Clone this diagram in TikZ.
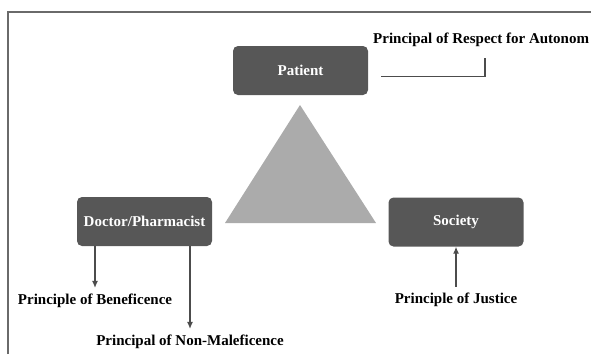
\documentclass[tikz,border=0pt]{standalone}
\usepackage{fontspec}
\setmainfont{Liberation Serif}
\usepackage{xcolor}
\usepackage{tikz}
\usetikzlibrary{positioning, arrows.meta}
\definecolor{boxgray}{HTML}{575757}
\definecolor{trigray}{HTML}{ABABAB}
\definecolor{framegray}{HTML}{6A6A6A}

\begin{document}
\begin{tikzpicture}[x=1pt, y=-1pt,
		party/.style={fill=boxgray, rounded corners=5pt, minimum width=135pt, minimum height=49pt, text=white, font=\fontsize{15}{18}\selectfont\bfseries},
		principle/.style={font=\fontsize{15}{18}\selectfont\bfseries, inner sep=2pt},
		link/.style={-{Latex[length=7pt, width=6pt]}, line width=1.2pt, draw=black!70}]
				\useasboundingbox (0,0) rectangle (591,354);
				\draw [framegray, line width=1.5pt] (8,354) -- (8,12) -- (591,12);
				\fill [trigray] (300,105) -- (225,223) -- (376,223) -- cycle;
				
				\node[party] (patient) at (300.5,70.5) {Patient};
				\node[party] (doctor) at (144.5,221.5) {Doctor/Pharmacist};
				\node[party] (society) at (456,222) {Society};
				
				\node[principle, anchor=west] (autonomy) at (371,40) {Principal of Respect for Autonom};
				\node[principle] (beneficence) at (95,301) {Principle of Beneficence};
				\node[principle] (nonmal) at (190,342) {Principal of Non-Maleficence};
				\node[principle] (justice) at (456,300) {Principle of Justice};
				
				\coordinate (bend) at (485,76.5);
				\draw [line width=1.2pt, draw=black!70] ([shift={(13,6)}]patient.east) -- (bend) -- ([yshift=-9pt]bend |- autonomy.south);
				\draw [link, shorten >=4pt] (beneficence.north |- doctor.south) -- (beneficence.north);
				\draw [link, shorten >=4pt] (nonmal.north |- doctor.south) -- (nonmal.north);
				\draw [link, shorten <=4pt] (justice.north) -- (justice.north |- society.south);
				\end{tikzpicture}
\end{document}
